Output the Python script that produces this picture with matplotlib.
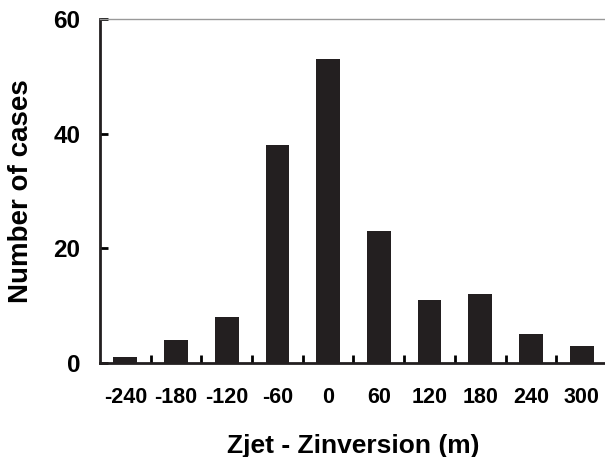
import matplotlib
matplotlib.use("Agg")
import matplotlib.pyplot as plt

plt.rcParams['font.family'] = ['Liberation Sans', 'DejaVu Sans']
plt.rcParams['font.weight'] = 'bold'

categories = ["-240", "-180", "-120", "-60", "0", "60", "120", "180", "240", "300"]
cases = [1, 4, 8, 38, 53, 23, 11, 12, 5, 3]

fig = plt.figure(figsize=(6.05, 4.57), dpi=100)
ax = fig.add_axes([100 / 605, 1 - 363 / 457, 507 / 605, 344 / 457])

x = list(range(len(categories)))
ax.bar(x, cases, width=0.47, color="#231f20")

ax.set_xlim(-0.5, len(categories) - 0.5)
ax.set_ylim(0, 60)
ax.set_yticks([0, 20, 40, 60])
ax.set_xticks(x)
ax.set_xticklabels(categories)
# small upward ticks between categories, like the original
ax.set_xticks([i + 0.5 for i in x[:-1]], minor=True)

ax.tick_params(axis="y", direction="in", length=6, width=2, labelsize=17.5, pad=14)
ax.tick_params(axis="x", which="major", length=0, labelsize=15.5, pad=17)
ax.tick_params(axis="x", which="minor", direction="in", length=6, width=2)

for side in ["left", "bottom"]:
    ax.spines[side].set_linewidth(2)
    ax.spines[side].set_color("#231f20")
ax.spines["top"].set_color("#999999")
ax.spines["top"].set_linewidth(1)
ax.spines["right"].set_visible(False)

ax.set_xlabel("Zjet - Zinversion (m)", fontsize=19, fontweight="bold", labelpad=19)
ax.set_ylabel("Number of cases", fontsize=20, fontweight="bold", labelpad=14)

fig.savefig("out.png", dpi=100)
